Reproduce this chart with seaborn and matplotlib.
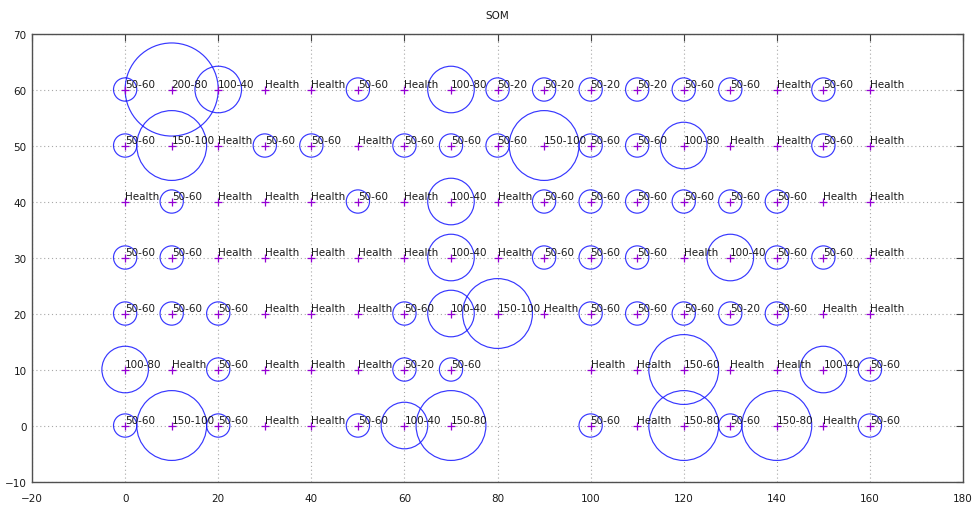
''' SOM map: circles sized by class, plus markers and labels '''
import matplotlib
matplotlib.use('Agg')
import matplotlib.pyplot as plt
import seaborn as sns
import pandas as pd

#--- grid columns (x) and one label list per row (y); None = no node
x_cols = [0, 10, 20, 30, 40, 50, 60, 70, 80, 90, 100, 110, 120, 130, 140, 150, 160]
y_rows = [60, 50, 40, 30, 20, 10, 0]

row_60 = ['50-60', '200-80', '100-40', 'Health', 'Health', '50-60', 'Health', '100-80', '50-20',
          '50-20', '50-20', '50-20', '50-60', '50-60', 'Health', '50-60', 'Health']
row_50 = ['50-60', '150-100', 'Health', '50-60', '50-60', 'Health', '50-60', '50-60', '50-60',
          '150-100', '50-60', '50-60', '100-80', 'Health', 'Health', '50-60', 'Health']
row_40 = ['Health', '50-60', 'Health', 'Health', 'Health', '50-60', 'Health', '100-40', 'Health',
          '50-60', '50-60', '50-60', '50-60', '50-60', '50-60', 'Health', 'Health']
row_30 = ['50-60', '50-60', 'Health', 'Health', 'Health', 'Health', 'Health', '100-40', 'Health',
          '50-60', '50-60', '50-60', 'Health', '100-40', '50-60', '50-60', 'Health']
row_20 = ['50-60', '50-60', '50-60', 'Health', 'Health', 'Health', '50-60', '100-40', '150-100',
          'Health', '50-60', '50-60', '50-60', '50-20', '50-60', 'Health', 'Health']
row_10 = ['100-80', 'Health', '50-60', 'Health', 'Health', 'Health', '50-20', '50-60', None,
          None, 'Health', 'Health', '150-60', 'Health', 'Health', '100-40', '50-60']
row_0 = ['50-60', '150-100', '50-60', 'Health', 'Health', '50-60', '100-40', '150-80', None,
         None, '50-60', 'Health', '150-80', '50-60', '150-80', 'Health', '50-60']

# circle radius (x-axis units) for each class
radius = {'Health': 0, '50-60': 2.5, '50-20': 2.5, '100-40': 5, '100-80': 5,
          '150-100': 7.5, '150-80': 7.5, '150-60': 7.5, '200-80': 10}

rows = [row_60, row_50, row_40, row_30, row_20, row_10, row_0]
recs = []
for yv, labs in zip(y_rows, rows):
    for xv, lab in zip(x_cols, labs):
        if lab is not None:
            recs.append({'x': xv, 'y': yv, 'label': lab, 'r': radius[lab]})
df = pd.DataFrame(recs)

#--- figure
sns.set_style('white')
plt.rcParams['font.family'] = ['DejaVu Sans']
fig = plt.figure(figsize=(9.77, 5.06), dpi=100)
L, R, B, T = 0.0328, 0.9857, 0.0464, 0.9318
ax = fig.add_axes([L, B, R - L, T - B])
ax.set_xlim(-20, 180)
ax.set_ylim(-10, 70)

# circle diameter in points, radius measured in x units (gnuplot style)
pt_per_unit = 9.77 * (R - L) * 72 / 200
circ = df[df['r'] > 0]
sizes = {r: (2 * r * pt_per_unit) ** 2 for r in circ['r'].unique()}
sns.scatterplot(data=circ, x='x', y='y', size='r', sizes=sizes, marker='o',
                color='#1414ff', facecolor='none', edgecolor='#1414ff',
                linewidth=0.85, alpha=0.85, legend=False, ax=ax, zorder=3)

sns.scatterplot(data=df, x='x', y='y', marker='+', color='#9400d3', s=28,
                linewidth=0.9, legend=False, ax=ax, zorder=4)

for _, rw in df.iterrows():
    ax.annotate(rw['label'], (rw['x'], rw['y']), xytext=(0, 1.8), textcoords='offset points',
                ha='left', va='baseline', fontsize=7.5, color='#1a1a1a', zorder=5)

ax.set_xticks(range(-20, 181, 20))
ax.set_yticks(range(-10, 71, 10))
ax.grid(True, color='#a8a8a8', linestyle=(0, (1, 2.5)), linewidth=0.8)
ax.set_axisbelow(True)
ax.tick_params(direction='in', length=5, width=0.8, color='#404040',
               top=True, right=True, labelsize=7.5, labelcolor='#1a1a1a')
ax.tick_params(axis='x', pad=8)
ax.tick_params(axis='y', pad=4)
for s in ax.spines.values():
    s.set_color('#505050')
    s.set_linewidth(1.0)
ax.set_xlabel('')
ax.set_ylabel('')
ax.set_title('SOM', fontsize=7.5, pad=11, color='#1a1a1a')

plt.savefig('out.png', dpi=100)
